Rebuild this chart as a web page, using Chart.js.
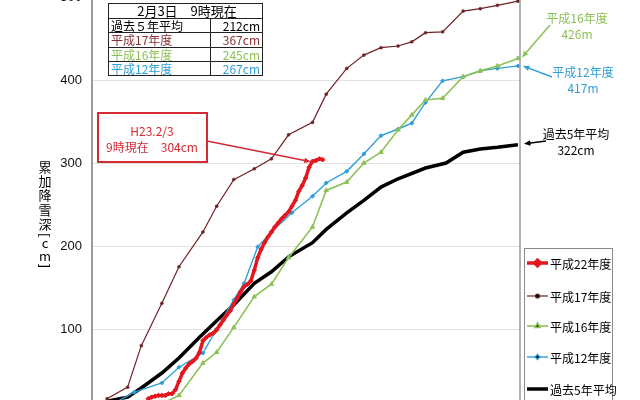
<!DOCTYPE html>
<html>
<head>
<meta charset="utf-8">
<script src="https://cdn.jsdelivr.net/npm/chart.js@4"></script>
<style>
html, body { margin: 0; padding: 0; background: #fff; overflow: hidden; }
#wrap { width: 640px; height: 400px; }
</style>
</head>
<body>
<div id="wrap"><canvas id="snowChart" width="640" height="400"></canvas></div>
<script>
// days counted from Dec 1 (0) to Mar 31 (120)
const h22Days = [12, 13, 14, 15, 16, 17, 18, 19, 20, 21, 22, 23, 24, 25, 26, 27, 28, 29, 30, 31, 32, 33, 34, 35, 36, 37,
    38, 39, 40, 41, 42, 43, 44, 45, 46, 47, 48, 49, 50, 51, 52, 53, 54, 55, 56, 57, 58, 59, 60, 61, 62, 63];
const h22Values = [16, 18, 19, 20, 20, 20, 22, 22, 27, 37, 47, 53, 58, 61, 65, 72, 86, 90, 93, 95, 99, 105, 111, 117, 122, 130,
    137, 145, 151, 154, 158, 171, 186, 196, 204, 211, 217, 223, 228, 233, 237, 241, 248, 255, 266, 273, 282, 295, 302, 303, 305, 304];

const h17Days = [0, 6, 10, 16, 21, 28, 32, 37, 43, 48, 53, 60, 64, 70, 75, 80, 85, 89, 93, 98, 104, 109, 114, 120];
const h17Values = [16, 30, 80, 131, 175, 217, 248, 280, 293, 305, 334, 349, 383, 414, 430, 439, 441, 446, 457, 458, 483, 486, 490, 495];

const h16Days = [12, 21, 28, 32, 37, 43, 48, 53, 60, 64, 70, 75, 80, 85, 89, 93, 98, 104, 109, 114, 120];
const h16Values = [2, 20, 59, 72, 102, 139, 154, 186, 223, 267, 277, 300, 313, 340, 358, 376, 378, 404, 411, 417, 426];

const h12Days = [0, 8, 16, 21, 28, 32, 37, 40, 44, 48, 54, 60, 64, 70, 75, 80, 85, 89, 93, 98, 104, 109, 114, 120];
const h12Values = [6, 24, 35, 54, 71, 100, 135, 155, 199, 217, 240, 260, 276, 290, 311, 333, 341, 348, 373, 399, 404, 411, 414, 417];

const avgDays = [0, 6, 10, 16, 21, 27, 33, 37, 43, 48, 53, 60, 64, 70, 75, 80, 85, 93, 99, 104, 109, 114, 120];
const avgValues = [13, 18, 29, 47, 65, 90, 114, 129, 155, 169, 187, 204, 220, 240, 255, 271, 281, 294, 300, 313, 317, 319, 322];

const yTicks = [100, 200, 300, 400, 500];

const tableTitle = '2月3日　9時現在';
const tableLabels = ['過去５年平均', '平成17年度', '平成16年度', '平成12年度'];
const tableValues = ['212cm', '367cm', '245cm', '267cm'];

const seriesNames = ['平成22年度', '平成17年度', '平成16年度', '平成12年度', '過去5年平均'];

const RED = '#e5161f', BROWN = '#6e2226', GREEN = '#8cc157', BLUE = '#2f9fd6', BLACK = '#000000';
const JP = '"Noto Sans CJK JP", "Noto Sans", sans-serif';

function pts(days, values) {
    return days.map((d, i) => ({ x: d, y: values[i] }));
}

function arrow(ctx, x1, y1, x2, y2, color, w) {
    const a = Math.atan2(y2 - y1, x2 - x1), h = 7;
    ctx.save();
    ctx.strokeStyle = color; ctx.fillStyle = color; ctx.lineWidth = w;
    ctx.beginPath();
    ctx.moveTo(x1, y1);
    ctx.lineTo(x2 - Math.cos(a) * h * 0.7, y2 - Math.sin(a) * h * 0.7);
    ctx.stroke();
    ctx.beginPath();
    ctx.moveTo(x2, y2);
    ctx.lineTo(x2 - h * Math.cos(a - 0.4), y2 - h * Math.sin(a - 0.4));
    ctx.lineTo(x2 - h * Math.cos(a + 0.4), y2 - h * Math.sin(a + 0.4));
    ctx.closePath();
    ctx.fill();
    ctx.restore();
}

const extras = {
    id: 'extras',
    afterDraw(chart) {
        const ctx = chart.ctx, area = chart.chartArea;
        const xs = chart.scales.x, ys = chart.scales.y;
        ctx.save();

        // right frame line
        ctx.strokeStyle = '#9a9a9a'; ctx.lineWidth = 1.5;
        ctx.beginPath(); ctx.moveTo(area.right, 0); ctx.lineTo(area.right, 400); ctx.stroke();

        // summary table
        const tx = 108.5, tr = 262.5, colX = 210.5, rowY = [3.5, 18.5, 32.5, 47.5, 61.5, 75.5];
        ctx.fillStyle = '#fff';
        ctx.fillRect(tx, rowY[0], tr - tx, rowY[5] - rowY[0]);
        ctx.strokeStyle = '#222'; ctx.lineWidth = 1;
        ctx.strokeRect(tx, rowY[0], tr - tx, rowY[5] - rowY[0]);
        for (let i = 1; i < 5; i++) {
            ctx.beginPath(); ctx.moveTo(tx, rowY[i]); ctx.lineTo(tr, rowY[i]); ctx.stroke();
        }
        ctx.beginPath(); ctx.moveTo(colX, rowY[1]); ctx.lineTo(colX, rowY[5]); ctx.stroke();
        ctx.textBaseline = 'middle';
        ctx.font = '13px ' + JP; ctx.fillStyle = '#000'; ctx.textAlign = 'center';
        ctx.fillText(tableTitle, 187, 11);
        const tColors = [BLACK, '#8a2f33', GREEN, BLUE];
        ctx.font = '12px ' + JP;
        tableLabels.forEach((lab, i) => {
            const cy = (rowY[i + 1] + rowY[i + 2]) / 2 + 0.5;
            ctx.fillStyle = tColors[i];
            ctx.textAlign = 'left'; ctx.fillText(lab, 111, cy);
            ctx.textAlign = 'right'; ctx.fillText(tableValues[i], 260, cy);
        });

        // current value callout
        ctx.strokeStyle = '#d42a33'; ctx.lineWidth = 2;
        ctx.fillStyle = '#fff';
        ctx.fillRect(98, 113, 109, 49);
        ctx.strokeRect(98, 113, 109, 49);
        ctx.fillStyle = '#d42a33'; ctx.textAlign = 'center'; ctx.font = '12px ' + JP;
        ctx.fillText('H23.2/3', 152, 131);
        ctx.fillText('9時現在　304cm', 152, 147);
        arrow(ctx, 207, 141, xs.getPixelForValue(h22Days[h22Days.length - 1]) - 12,
            ys.getPixelForValue(h22Values[h22Values.length - 1]) + 2, '#d42a33', 1.5);

        // right side labels
        const endX = xs.getPixelForValue(120);
        ctx.font = '12px ' + JP;
        ctx.fillStyle = GREEN;
        ctx.fillText('平成16年度', 577, 18);
        ctx.fillText(h16Values[h16Values.length - 1] + 'm', 577, 34);
        arrow(ctx, 550, 25, endX + 4, ys.getPixelForValue(h16Values[h16Values.length - 1]) - 1, GREEN, 1.5);
        ctx.fillStyle = BLUE;
        ctx.fillText('平成12年度', 583, 72);
        ctx.fillText(h12Values[h12Values.length - 1] + 'm', 583, 88);
        arrow(ctx, 552, 77, endX + 5, ys.getPixelForValue(h12Values[h12Values.length - 1]), BLUE, 1.5);
        ctx.fillStyle = BLACK;
        ctx.fillText('過去5年平均', 576, 134);
        ctx.fillText(avgValues[avgValues.length - 1] + 'cm', 576, 150);
        arrow(ctx, 546, 141, endX + 6, ys.getPixelForValue(avgValues[avgValues.length - 1]) - 1, BLACK, 1.5);

        // legend
        ctx.strokeStyle = '#8a8a8a'; ctx.lineWidth = 1;
        ctx.strokeRect(524.5, 248.5, 88, 170);
        const legY = [263, 296, 326, 357, 389];
        chart.data.datasets.forEach((ds, i) => {
            const y = legY[i];
            ctx.strokeStyle = ds.borderColor; ctx.lineWidth = ds.borderWidth;
            ctx.beginPath(); ctx.moveTo(527, y); ctx.lineTo(548, y); ctx.stroke();
            if (ds.pointRadius > 0) {
                Chart.helpers.drawPoint(ctx, {
                    pointStyle: ds.pointStyle, radius: ds.pointRadius + 0.5, borderWidth: 1
                }, 537.5, y);
            }
            ctx.fillStyle = '#000'; ctx.textAlign = 'left'; ctx.font = '12px ' + JP;
            ctx.fillText(ds.label, 550, y + 1);
        });

        // vertical axis title, stacked characters (brackets turned for vertical writing)
        const titleChars = ['累', '加', '降', '雪', '深', '[', 'c', 'm', ']'];
        const titleY = [167, 181, 195, 210, 224, 235, 243, 256, 266];
        ctx.fillStyle = '#000'; ctx.textAlign = 'center';
        titleChars.forEach((ch, i) => {
            if (ch === '[' || ch === ']') {
                ctx.save();
                ctx.font = '13px "Liberation Sans", sans-serif';
                ctx.translate(45, titleY[i]);
                ctx.rotate(Math.PI / 2);
                ctx.fillText(ch, 0, 0);
                ctx.restore();
            } else {
                ctx.font = '13px ' + JP;
                ctx.fillText(ch, 45, titleY[i]);
            }
        });
        ctx.restore();
    }
};

new Chart(document.getElementById('snowChart'), {
    type: 'line',
    data: {
        datasets: [
            {
                label: seriesNames[0], data: pts(h22Days, h22Values),
                borderColor: RED, backgroundColor: RED, borderWidth: 3.5,
                pointStyle: 'rectRot', pointRadius: 2.2, pointBorderWidth: 1
            },
            {
                label: seriesNames[1], data: pts(h17Days, h17Values),
                borderColor: BROWN, backgroundColor: BROWN, borderWidth: 1.2,
                pointStyle: 'circle', pointRadius: 1.5, pointBorderWidth: 0.5
            },
            {
                label: seriesNames[2], data: pts(h16Days, h16Values),
                borderColor: GREEN, backgroundColor: GREEN, borderWidth: 1.6,
                pointStyle: 'triangle', pointRadius: 2.5, pointBorderWidth: 1
            },
            {
                label: seriesNames[3], data: pts(h12Days, h12Values),
                borderColor: BLUE, backgroundColor: BLUE, borderWidth: 1.4,
                pointStyle: 'rectRot', pointRadius: 2, pointBorderWidth: 1
            },
            {
                label: seriesNames[4], data: pts(avgDays, avgValues),
                borderColor: BLACK, backgroundColor: BLACK, borderWidth: 3.5,
                pointRadius: 0
            }
        ]
    },
    options: {
        responsive: false,
        animation: false,
        devicePixelRatio: 1,
        layout: { autoPadding: false, padding: { left: 0, right: 120, top: 0, bottom: 0 } },
        plugins: {
            legend: { display: false },
            tooltip: { enabled: false }
        },
        scales: {
            x: {
                type: 'linear',
                min: -4.4,
                max: 120.6,
                display: false
            },
            y: {
                min: 14.5,
                max: 496.4,
                afterFit: function (scale) {
                    scale.width = 92;
                    scale.paddingTop = 0;
                    scale.paddingBottom = 0;
                },
                afterBuildTicks: function (scale) { scale.ticks = yTicks.map(v => ({ value: v })); },
                grid: { color: '#e2e2e2', drawTicks: false },
                border: { color: '#9a9a9a', width: 2 },
                ticks: {
                    padding: 10,
                    color: '#111',
                    font: { family: "'Liberation Sans', Arial, sans-serif", size: 13 }
                }
            }
        }
    },
    plugins: [extras]
});
</script>
</body>
</html>
